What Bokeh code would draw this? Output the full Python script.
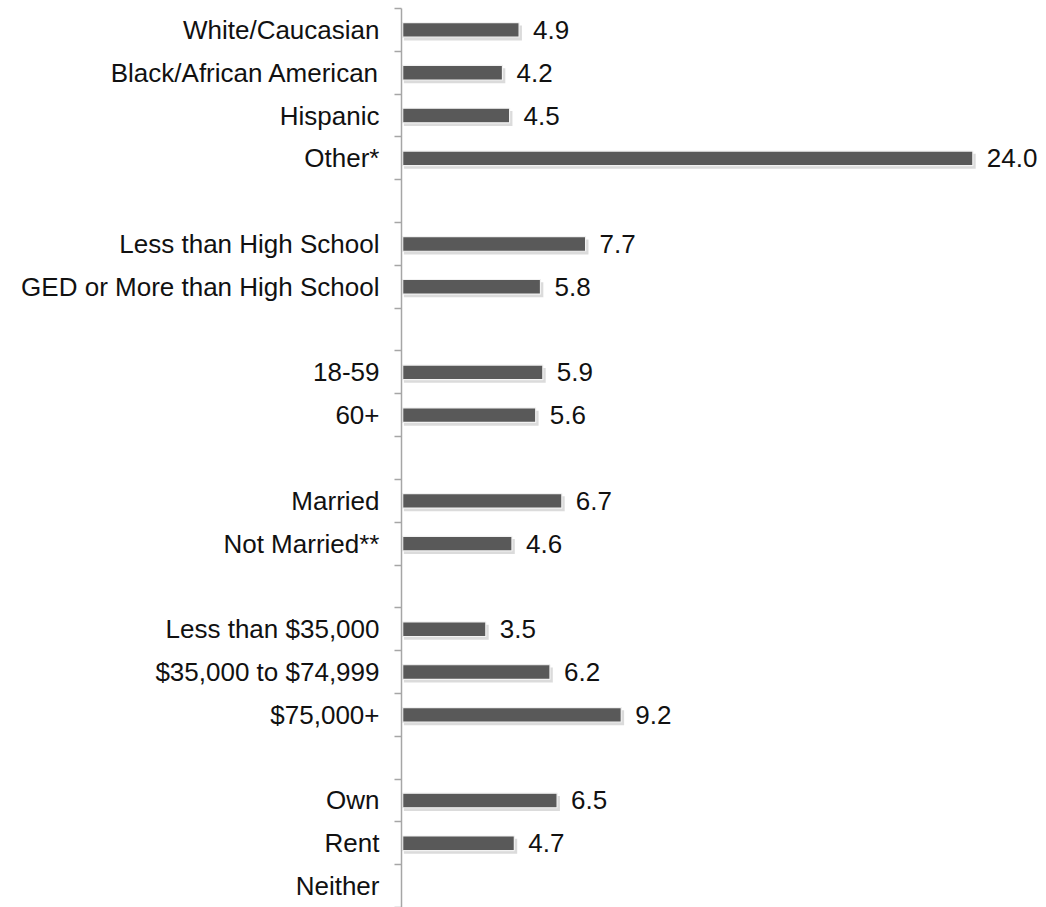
from bokeh.plotting import figure
from bokeh.models import Range1d, FixedTicker, ColumnDataSource
from bokeh.embed import file_html
from bokeh.resources import INLINE
from bokeh.core.properties import value

categories = ["White/Caucasian", "Black/African American", "Hispanic", "Other*", "",
              "Less than High School", "GED or More than High School", "",
              "18-59", "60+", "",
              "Married", "Not Married**", "",
              "Less than $35,000", "$35,000 to $74,999", "$75,000+", "",
              "Own", "Rent", "Neither"]
values = [4.9, 4.2, 4.5, 24.0, None,
          7.7, 5.8, None,
          5.9, 5.6, None,
          6.7, 4.6, None,
          3.5, 6.2, 9.2, None,
          6.5, 4.7, None]

n = len(categories)
ys, vs, labels = [], [], []
for i, v in enumerate(values):
    if v is not None:
        ys.append(i + 0.5)
        vs.append(v)
        labels.append(f"{v:.1f}")

src = ColumnDataSource(dict(y=ys, v=vs, lab=labels,
                            ys=[y + 0.07 for y in ys], vs=[v + 0.12 for v in vs]))

FONT = "Liberation Sans"
p = figure(width=1046, height=907, output_backend="svg", toolbar_location=None,
           x_range=Range1d(-0.05, 27.1), y_range=Range1d(n, 0),
           min_border_left=401, min_border_right=0, min_border_top=8, min_border_bottom=0)
p.outline_line_color = None
p.xgrid.visible = False
p.ygrid.visible = False
p.xaxis.visible = False

# shadow
p.hbar(y="ys", left=0.05, right="vs", height=0.35, source=src,
       fill_color="#bdbdbd", fill_alpha=0.55, line_color=None)
p.hbar(y="y", left=0, right="v", height=0.34, source=src,
       fill_color="#595959", line_color="#f2f2f2", line_width=1.2)
p.text(x="v", y="y", text="lab", source=src, x_offset=14,
       text_font=value(FONT), text_font_size="26px", text_color="#111111",
       text_align="left", text_baseline="middle")

ax = p.yaxis[0]
ax.ticker = FixedTicker(ticks=[i + 0.5 for i in range(n)],
                        minor_ticks=[float(i) for i in range(n + 1)])
ax.major_label_overrides = {i + 0.5: c for i, c in enumerate(categories)}
ax.major_tick_out = 0
ax.major_tick_in = 0
ax.minor_tick_out = 7
ax.minor_tick_in = 0
ax.minor_tick_line_color = "#a6a6a6"
ax.minor_tick_line_width = 1.5
ax.axis_line_color = "#a6a6a6"
ax.axis_line_width = 1.5
ax.major_label_standoff = 15
ax.major_label_text_font = FONT
ax.major_label_text_font_size = "26px"
ax.major_label_text_color = "#111111"

open("out.html", "w").write(file_html(p, INLINE))
